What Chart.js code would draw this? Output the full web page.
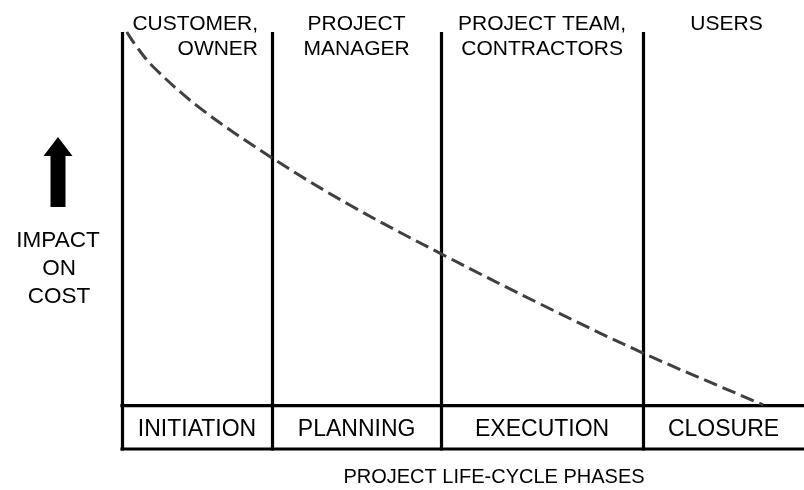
<!DOCTYPE html>
<html>
<head>
<meta charset="utf-8">
<script src="https://cdn.jsdelivr.net/npm/chart.js@4.4.1/dist/chart.umd.min.js"></script>
<style>
  html, body { margin: 0; padding: 0; background: #fff; }
  #wrap { width: 804px; height: 490px; }
</style>
</head>
<body>
<div id="wrap"><canvas id="chart" width="804" height="490"></canvas></div>
<script>
// impact on cost across the project life-cycle (x = elapsed %, y = impact %)
const curveX = [0.7, 2.0, 4.6, 11.4, 22.0, 33.4, 46.8, 61.3, 76.4, 94.0];
const curveY = [100, 96.8, 91.6, 81.8, 69.8, 58.5, 46.8, 34.8, 23.0, 10.6];

const phases = ['INITIATION', 'PLANNING', 'EXECUTION', 'CLOSURE'];
const phaseEdges = [0, 22.0, 46.8, 76.4, 100];
const roles = [['CUSTOMER,', 'OWNER'], ['PROJECT', 'MANAGER'], ['PROJECT TEAM,', 'CONTRACTORS'], ['USERS']];
const tableTop = 10.4;
const yTitle = ['IMPACT', 'ON', 'COST'];
const xTitle = 'PROJECT LIFE-CYCLE PHASES';

const FONT = '"Liberation Sans", Arial, Helvetica, sans-serif';

// grid lines, phase table, role labels and axis titles
const phaseGrid = {
  id: 'phaseGrid',
  beforeDatasetsDraw(chart) {
    const { ctx, scales: { x, y } } = chart;
    ctx.save();
    ctx.strokeStyle = '#000';
    ctx.lineWidth = 3.2;
    // vertical phase dividers (not the right edge)
    phaseEdges.slice(0, -1).forEach(v => {
      const px = Math.round(x.getPixelForValue(v)) + 0.5;
      ctx.beginPath();
      ctx.moveTo(px, y.getPixelForValue(100));
      ctx.lineTo(px, y.getPixelForValue(0) + 1.6);
      ctx.stroke();
    });
    // table rows
    [tableTop, 0].forEach(v => {
      const py = y.getPixelForValue(v);
      ctx.beginPath();
      ctx.moveTo(x.getPixelForValue(0) - 1.6, py);
      ctx.lineTo(chart.width, py);
      ctx.stroke();
    });
    ctx.restore();
  },
  afterDraw(chart) {
    const { ctx, chartArea: a, scales: { x, y } } = chart;
    ctx.save();
    ctx.fillStyle = '#000';
    ctx.textBaseline = 'alphabetic';

    // phase names inside the table
    ctx.font = '23px ' + FONT;
    ctx.textAlign = 'center';
    const bandMid = (y.getPixelForValue(tableTop) + y.getPixelForValue(0)) / 2;
    phases.forEach((p, i) => {
      const cx = (x.getPixelForValue(phaseEdges[i]) + x.getPixelForValue(phaseEdges[i + 1])) / 2;
      ctx.fillText(p, cx, bandMid + 9);
    });

    // role labels above each phase
    ctx.font = '21px ' + FONT;
    roles.forEach((lines, i) => {
      const x0 = x.getPixelForValue(phaseEdges[i]);
      const x1 = x.getPixelForValue(phaseEdges[i + 1]);
      lines.forEach((t, j) => {
        const by = a.top - 2 + j * 25;
        if (i === 0) {
          ctx.textAlign = 'right';
          ctx.fillText(t, x1 - 14, by);
        } else {
          ctx.textAlign = 'center';
          ctx.fillText(t, (x0 + x1) / 2 + (i === 3 ? 3 : 0), by);
        }
      });
    });

    // y title with arrow
    const ax = 58;
    ctx.beginPath();
    ctx.moveTo(ax, 137);
    ctx.lineTo(ax + 14.5, 156);
    ctx.lineTo(ax + 7.5, 156);
    ctx.lineTo(ax + 7.5, 207);
    ctx.lineTo(ax - 7.5, 207);
    ctx.lineTo(ax - 7.5, 156);
    ctx.lineTo(ax - 14.5, 156);
    ctx.closePath();
    ctx.fill();
    ctx.font = '22.5px ' + FONT;
    ctx.textAlign = 'center';
    yTitle.forEach((t, j) => ctx.fillText(t, ax + (j === 0 ? 0 : 1), 247 + j * 28));

    // x title
    ctx.font = '20px ' + FONT;
    ctx.fillText(xTitle, 494, 483);
    ctx.restore();
  }
};

new Chart(document.getElementById('chart'), {
  type: 'line',
  data: {
    datasets: [{
      data: curveX.map((v, i) => ({ x: v, y: curveY[i] })),
      borderColor: '#404040',
      borderWidth: 3,
      borderDash: [14, 6],
      pointRadius: 0,
      tension: 0.35,
      clip: false,
      fill: false
    }]
  },
  options: {
    responsive: false,
    animation: false,
    devicePixelRatio: 1,
    layout: { padding: { left: 122, right: 0, top: 32, bottom: 41 } },
    scales: {
      x: { type: 'linear', min: 0, max: 100, display: false },
      y: { type: 'linear', min: 0, max: 100, display: false }
    },
    plugins: { legend: { display: false }, tooltip: { enabled: false } }
  },
  plugins: [phaseGrid]
});
</script>
</body>
</html>
